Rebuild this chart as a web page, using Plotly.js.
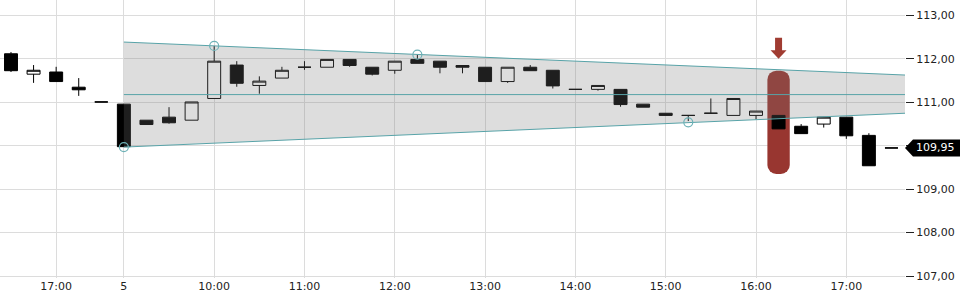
<!DOCTYPE html>
<html>
<head>
<meta charset="utf-8">
<script src="https://cdn.plot.ly/plotly-3.0.1.min.js"></script>
<style>html,body{margin:0;padding:0;background:#fff;}#chart{width:960px;height:300px;}</style>
</head>
<body>
<div id="chart"></div>
<script>
// 15-minute candles, day 4 (afternoon) and day 5
var times = [
  '04 16:30','04 16:45','04 17:00','04 17:15','04 17:30',
  '05 09:00','05 09:15','05 09:30','05 09:45',
  '05 10:00','05 10:15','05 10:30','05 10:45',
  '05 11:00','05 11:15','05 11:30','05 11:45',
  '05 12:00','05 12:15','05 12:30','05 12:45',
  '05 13:00','05 13:15','05 13:30','05 13:45',
  '05 14:00','05 14:15','05 14:30','05 14:45',
  '05 15:00','05 15:15','05 15:30','05 15:45',
  '05 16:00','05 16:15','05 16:30','05 16:45',
  '05 17:00','05 17:15','05 17:30'
];
var open  = [112.12,111.65,111.70,111.35,111.01, 110.96,110.59,110.66,110.59, 111.09,111.86,111.39,111.56, 111.81,111.81,111.99,111.81, 111.74,111.99,111.95,111.85, 111.81,111.48,111.81,111.74, 111.30,111.30,111.30,110.96, 110.75,110.70,110.75,110.70, 110.70,110.70,110.45,110.50, 110.66,110.24,109.95];
var high  = [112.16,111.86,111.82,111.56,111.01, 110.96,110.59,110.89,111.01, 112.30,111.95,111.60,111.82, 111.95,111.99,111.99,111.81, 111.95,112.10,111.95,111.85, 111.81,111.81,111.86,111.74, 111.30,111.39,111.30,110.96, 110.75,110.70,111.09,111.09, 110.80,110.70,110.50,110.66, 110.66,110.29,109.95];
var low   = [111.70,111.45,111.48,111.15,111.01, 109.98,110.49,110.51,110.59, 111.09,111.36,111.20,111.56, 111.75,111.81,111.82,111.62, 111.66,111.90,111.67,111.67, 111.48,111.45,111.73,111.32, 111.30,111.27,110.90,110.89, 110.70,110.57,110.75,110.70, 110.61,110.39,110.28,110.42, 110.16,109.54,109.95];
var close = [111.73,111.74,111.48,111.29,111.01, 109.98,110.49,110.53,111.01, 111.95,111.44,111.49,111.74, 111.81,111.99,111.85,111.65, 111.95,111.90,111.81,111.81, 111.48,111.81,111.73,111.38, 111.30,111.39,110.95,110.89, 110.70,110.70,110.75,111.09, 110.80,110.39,110.28,110.66, 110.23,109.54,109.95];

// trend channel (start candle -> right edge of chart)
var channelStart = '05 09:00';
var channelUpper = [112.39, 111.63];
var channelLower = [109.97, 110.75];
var channelMid   = [111.18, 111.18];

// channel touch points
var pivotTimes  = ['05 10:00','05 12:15','05 09:00','05 15:15'];
var pivotPrices = [112.30, 112.10, 109.97, 110.54];

// highlighted signal candle
var signalTime = '05 16:15';
var signalTop = 111.73;
var signalBottom = 109.35;

// last price
var lastPrice = 109.95;
var lastPriceText = '109,95';

// axis ticks
var xTickTimes = ['04 17:00','05 09:00','05 10:00','05 11:00','05 12:00','05 13:00','05 14:00','05 15:00','05 16:00','05 17:00'];
var xTickText  = ['17:00','5','10:00','11:00','12:00','13:00','14:00','15:00','16:00','17:00'];
var yTickVals  = [107,108,109,110,111,112,113];
var yTickText  = ['107,00','108,00','109,00','','111,00','112,00','113,00'];

var idx = function(t){ return times.indexOf(t); };
var xs = times.map(function(t,i){ return i; });
var xMin = -0.487, xMax = 39.6;
var chanX = [idx(channelStart), xMax];
var sigIdx = idx(signalTime);

var teal = 'rgb(88,163,168)';
var font = {family:'DejaVu Sans, sans-serif', size:11, color:'#222'};

var traces = [
  {type:'bar', x:[sigIdx], y:[signalTop - signalBottom], base:[signalBottom], width:[0.99],
   marker:{color:'rgb(152,54,48)', cornerradius:9, line:{width:0}}, hoverinfo:'skip', showlegend:false},
  {type:'scatter', mode:'lines', x:chanX, y:channelLower, line:{color:teal, width:1}, hoverinfo:'skip', showlegend:false},
  {type:'scatter', mode:'lines', x:chanX, y:channelUpper, fill:'tonexty', fillcolor:'rgba(120,120,120,0.25)',
   line:{color:teal, width:1}, hoverinfo:'skip', showlegend:false},
  {type:'scatter', mode:'lines', x:chanX, y:channelMid, line:{color:teal, width:1}, hoverinfo:'skip', showlegend:false},
  {type:'scatter', mode:'markers', x:pivotTimes.map(idx), y:pivotPrices,
   marker:{symbol:'circle-open', size:9, color:'rgb(110,178,183)', line:{width:1.2}}, hoverinfo:'skip', showlegend:false},
  {type:'candlestick', x:xs, open:open, high:high, low:low, close:close,
   increasing:{line:{color:'#000', width:1}, fillcolor:'#fff'},
   decreasing:{line:{color:'#000', width:1}, fillcolor:'#000'},
   whiskerwidth:0, hoverinfo:'skip', showlegend:false}
];

var layout = {
  width:960, height:300,
  margin:{l:0, r:55, t:0, b:22, pad:0},
  paper_bgcolor:'#fff', plot_bgcolor:'#fff',
  showlegend:false, hovermode:false,
  boxgap:0.18,
  font:font,
  xaxis:{type:'linear', range:[xMin, xMax], tickvals:xTickTimes.map(idx), ticktext:xTickText,
    showgrid:true, gridcolor:'#dcdcdc', gridwidth:1, zeroline:false, showline:false, ticks:'',
    rangeslider:{visible:false}, tickfont:font, fixedrange:true},
  yaxis:{side:'right', range:[106.954, 113.359], tickvals:yTickVals, ticktext:yTickText,
    showgrid:true, gridcolor:'#dcdcdc', gridwidth:1, zeroline:false, showline:false,
    ticks:'outside', ticklen:8, tickcolor:'#222', tickwidth:1, tickfont:font, fixedrange:true},
  shapes:[
    {type:'path', xref:'x', yref:'y', xsizemode:'pixel', ysizemode:'pixel', xanchor:sigIdx, yanchor:signalTop,
     path:'M0,12 L-8,20.5 L-3.5,20.5 L-3.5,33 L3.5,33 L3.5,20.5 L8,20.5 Z',
     fillcolor:'rgb(160,60,50)', line:{width:0}, layer:'above'},
    {type:'path', xref:'paper', yref:'y', xsizemode:'pixel', ysizemode:'pixel', xanchor:1, yanchor:lastPrice,
     path:'M0,0 L8,8.5 L60,8.5 L60,-8.5 L8,-8.5 Z', fillcolor:'#000', line:{width:0}, layer:'above'}
  ],
  annotations:[
    {xref:'paper', yref:'y', x:1, y:lastPrice, xanchor:'left', yanchor:'middle', xshift:9,
     text:lastPriceText, showarrow:false, font:{family:font.family, size:11, color:'#fff'}}
  ]
};

Plotly.newPlot('chart', traces, layout, {staticPlot:true, displayModeBar:false});
</script>
</body>
</html>
